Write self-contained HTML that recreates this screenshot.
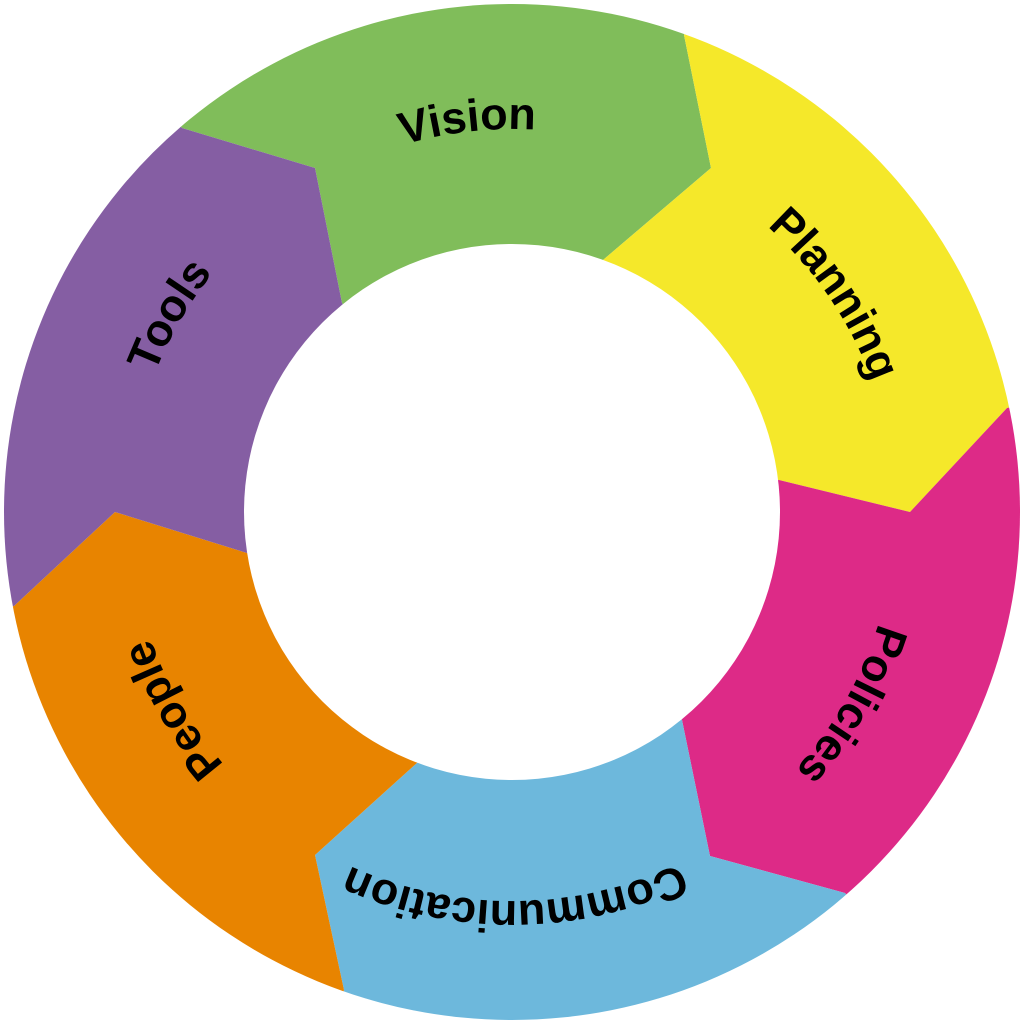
<!DOCTYPE html>
<html><head><meta charset="utf-8"><style>html,body{margin:0;padding:0;background:#fff;width:1024px;height:1024px;overflow:hidden}svg{display:block;overflow:hidden}</style></head>
<body>
<svg width="1024" height="1024" viewBox="0 0 1024 1024" xmlns="http://www.w3.org/2000/svg">
<defs>
<clipPath id="c"><circle cx="512" cy="512" r="508"/></clipPath>
<path id="p1" d="M512,129 A383,383 0 1 1 512,895 A383,383 0 1 1 512,129 A383,383 0 1 1 512,895 A383,383 0 1 1 512,129"/>
<path id="p2" d="M512,123 A389,389 0 1 1 512,901 A389,389 0 1 1 512,123 A389,389 0 1 1 512,901 A389,389 0 1 1 512,123"/>
</defs>
<g clip-path="url(#c)">
<polygon fill="#80bd5a" points="512,512 342,303 315,168 182,128 17,-64 770,-204 684,35 711,168 603,260"/>
<polygon fill="#f5e82a" points="512,512 603,260 711,168 684,35 770,-204 1254,356 1007,408 910,512 779,480"/>
<polygon fill="#dd2a87" points="512,512 779,480 910,512 1007,408 1254,356 1011,1083 845,893 710,856 682,720"/>
<polygon fill="#6db8dc" points="512,512 682,720 710,856 845,893 1011,1083 260,1229 344,990 315,855 418,762"/>
<polygon fill="#e88400" points="512,512 418,762 315,855 344,990 260,1229 -235,653 14,606 115,512 247,553"/>
<polygon fill="#855ea3" points="512,512 247,553 115,512 14,606 -235,653 17,-64 182,128 315,168 342,303"/>
</g>
<circle cx="512" cy="512" r="268" fill="#fff"/>
<g font-family="Liberation Sans, sans-serif" font-weight="bold" font-size="45" fill="#000" text-anchor="middle">
<text><textPath href="#p1" startOffset="2362">Vision</textPath></text>
<text><textPath href="#p1" startOffset="374">Planning</textPath></text>
<text><textPath href="#p1" startOffset="799">Policies</textPath></text>
<text><textPath href="#p2" startOffset="1219">Communication</textPath></text>
<text><textPath href="#p1" startOffset="1602">People</textPath></text>
<text><textPath href="#p1" startOffset="2004">Tools</textPath></text>
</g>
</svg>
</body></html>
